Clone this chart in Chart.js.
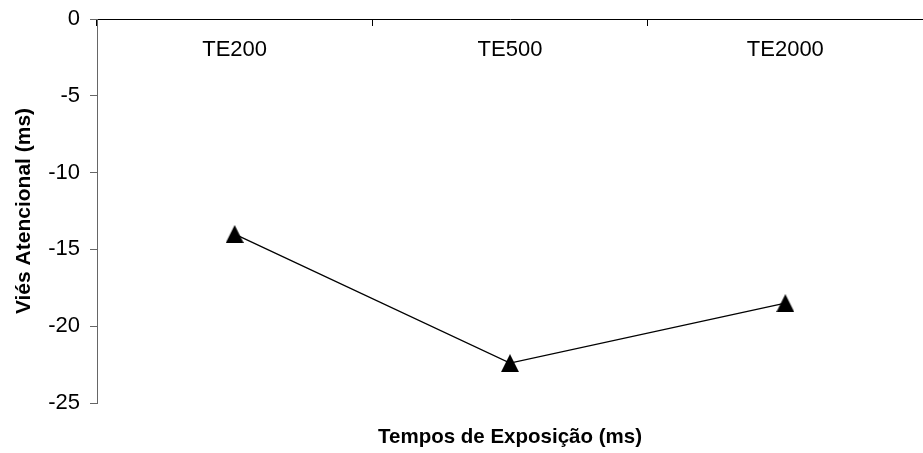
<!DOCTYPE html>
<html><head><meta charset="utf-8">
<script src="https://cdn.jsdelivr.net/npm/chart.js@4"></script>
<style>html,body{margin:0;padding:0;background:#fff}</style>
</head><body>
<canvas id="c" width="923" height="453"></canvas>
<script>
const categories = ['TE200', 'TE500', 'TE2000'];
const biasValues = [-14.0, -22.4, -18.5];
const yMin = -25, yMax = 0, yStep = 5;
const yTitle = 'Viés Atencional (ms)';
const xTitle = 'Tempos de Exposição (ms)';

const FONT = "'Liberation Sans', Arial, sans-serif";

function triangleMarker(size) {
  const c = document.createElement('canvas');
  c.width = size; c.height = size;
  const g = c.getContext('2d');
  g.fillStyle = '#000';
  g.beginPath();
  g.moveTo(size / 2, 0);
  g.lineTo(size, size);
  g.lineTo(0, size);
  g.closePath();
  g.fill();
  return c;
}
const marker = triangleMarker(18);

function noPad(s) { s.paddingLeft = 0; s.paddingRight = 0; s.paddingTop = 0; s.paddingBottom = 0; }

new Chart(document.getElementById('c'), {
  type: 'line',
  data: {
    labels: categories,
    datasets: [{
      data: biasValues,
      borderColor: '#000',
      borderWidth: 1.3,
      pointStyle: marker,
      pointRadius: 9,
      clip: false,
      tension: 0
    }]
  },
  options: {
    responsive: false,
    animation: false,
    layout: { autoPadding: false, padding: { top: 0, left: 0, right: -2, bottom: 0 } },
    plugins: { legend: { display: false }, tooltip: { enabled: false } },
    scales: {
      x: {
        type: 'category',
        position: 'top',
        offset: true,
        grid: { display: true, drawOnChartArea: false, drawTicks: true, tickLength: -7, color: '#000', offset: true },
        border: { display: true, color: '#000', width: 1 },
        ticks: { mirror: true, padding: 18, color: '#000', font: { family: FONT, size: 22 }, maxRotation: 0 },
        afterFit: s => { s.height = 19; noPad(s); }
      },
      x2: {
        type: 'category',
        position: 'bottom',
        labels: categories,
        offset: true,
        grid: { display: false },
        border: { display: false },
        ticks: { display: false },
        title: { display: true, text: xTitle, color: '#000', font: { family: FONT, size: 20.5, weight: 'bold' }, padding: { top: 0, bottom: 3 } },
        afterFit: s => { s.height = 50; noPad(s); }
      },
      y: {
        min: yMin, max: yMax,
        ticks: { stepSize: yStep, color: '#000', padding: 10, font: { family: FONT, size: 22 } },
        grid: { display: true, drawOnChartArea: false, drawTicks: true, tickLength: 7, color: '#666' },
        border: { display: true, color: '#666', width: 1 },
        title: { display: true, text: yTitle, color: '#000', font: { family: FONT, size: 21, weight: 'bold' }, padding: { top: 12, bottom: 0 } },
        afterFit: s => { s.width = 97; noPad(s); }
      }
    }
  }
});
</script>
</body></html>
